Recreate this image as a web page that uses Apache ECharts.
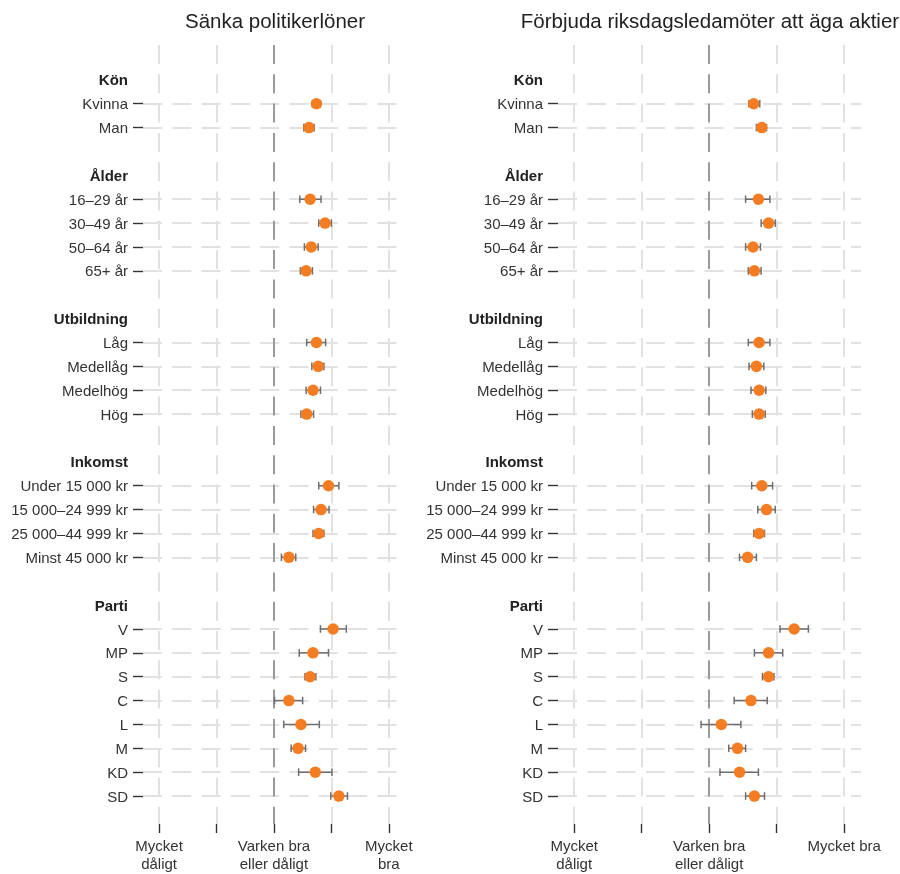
<!DOCTYPE html>
<html>
<head>
<meta charset="utf-8">
<script src="https://cdn.jsdelivr.net/npm/echarts@6/dist/echarts.min.js"></script>
<style>
  html, body { margin: 0; padding: 0; background: #ffffff; }
  #chart { width: 900px; height: 874px; }
</style>
</head>
<body>
<div id="chart"></div>
<script>
// ---------------- DATA ----------------
const panelTitles = ['Sänka politikerlöner', 'Förbjuda riksdagsledamöter att äga aktier'];

const groupNames = ['Kön', 'Ålder', 'Utbildning', 'Inkomst', 'Parti'];
const groupKon = ['Kvinna', 'Man'];
const groupAlder = ['16–29 år', '30–49 år', '50–64 år', '65+ år'];
const groupUtbildning = ['Låg', 'Medellåg', 'Medelhög', 'Hög'];
const groupInkomst = ['Under 15 000 kr', '15 000–24 999 kr', '25 000–44 999 kr', 'Minst 45 000 kr'];
const groupParti = ['V', 'MP', 'S', 'C', 'L', 'M', 'KD', 'SD'];

// x tick values and labels (1 = Mycket dåligt ... 5 = Mycket bra)
const xTickValues = [1, 2, 3, 4, 5];
const xTickLabelsLeft = ['Mycket\ndåligt', '', 'Varken bra\neller dåligt', '', 'Mycket\nbra'];
const xTickLabelsRight = ['Mycket\ndåligt', '', 'Varken bra\neller dåligt', '', 'Mycket bra'];

// Panel 1: Sänka politikerlöner (order: Kön, Ålder, Utbildning, Inkomst, Parti)
const lonerMean = [3.74, 3.61, 3.63, 3.89, 3.65, 3.56, 3.74, 3.77, 3.68, 3.57,
                   3.95, 3.82, 3.78, 3.26, 4.03, 3.68, 3.63, 3.26, 3.47, 3.42, 3.72, 4.13];
const lonerLow  = [3.67, 3.52, 3.45, 3.78, 3.53, 3.46, 3.57, 3.66, 3.56, 3.47,
                   3.78, 3.69, 3.68, 3.13, 3.81, 3.44, 3.54, 3.01, 3.17, 3.30, 3.43, 3.99];
const lonerHigh = [3.81, 3.70, 3.82, 4.00, 3.77, 3.67, 3.90, 3.87, 3.81, 3.69,
                   4.13, 3.96, 3.87, 3.38, 4.26, 3.95, 3.73, 3.50, 3.79, 3.55, 4.01, 4.28];

// Panel 2: Förbjuda riksdagsledamöter att äga aktier
const aktierMean = [3.66, 3.78, 3.73, 3.88, 3.65, 3.67, 3.74, 3.70, 3.74, 3.74,
                    3.78, 3.85, 3.74, 3.57, 4.26, 3.88, 3.88, 3.62, 3.18, 3.42, 3.45, 3.67];
const aktierLow  = [3.59, 3.70, 3.54, 3.77, 3.54, 3.58, 3.58, 3.59, 3.62, 3.64,
                    3.63, 3.72, 3.66, 3.45, 4.05, 3.67, 3.79, 3.37, 2.88, 3.29, 3.16, 3.54];
const aktierHigh = [3.75, 3.85, 3.90, 3.98, 3.76, 3.77, 3.90, 3.81, 3.84, 3.83,
                    3.94, 3.98, 3.82, 3.70, 4.47, 4.09, 3.96, 3.86, 3.47, 3.54, 3.73, 3.82];

// ---------------- BUILD ROWS ----------------
const groupItems = [groupKon, groupAlder, groupUtbildning, groupInkomst, groupParti];
const rowText = [];      // text per row index
const headerRows = [];   // row indices of headers
const dataRows = [];     // row indices of data items
groupNames.forEach((g, gi) => {
  if (gi > 0) rowText.push('');             // blank spacer row
  headerRows.push(rowText.length);
  rowText.push(g);
  groupItems[gi].forEach(it => { dataRows.push(rowText.length); rowText.push(it); });
});
const labelRows = headerRows.concat(dataRows).sort((a, b) => a - b);

const FONT = '"Liberation Sans", Arial, Helvetica, sans-serif';
const GRID_TOP = 45, GRID_H = 783;
const grids = [
  { left: 143, top: GRID_TOP, width: 255, height: GRID_H },
  { left: 558, top: GRID_TOP, width: 303, height: GRID_H }
];
const xRanges = [[0.72, 5.16], [0.76, 5.25]];
const xLabelSets = [xTickLabelsLeft, xTickLabelsRight];
const means = [lonerMean, aktierMean], lows = [lonerLow, aktierLow], highs = [lonerHigh, aktierHigh];

const dash = [19, 10.3];
const lightGrid = '#e1e1e1';

const xAxes = [], yAxes = [], series = [], titles = [];
[0, 1].forEach(p => {
  xAxes.push({
    type: 'value', gridIndex: p, min: xRanges[p][0], max: xRanges[p][1], position: 'bottom',
    axisLine: { show: false, onZero: false },
    axisTick: { show: true, customValues: xTickValues, length: 9, lineStyle: { color: '#333', width: 1.4 } },
    axisLabel: {
      customValues: xTickValues, margin: 14, color: '#333', fontSize: 15, fontFamily: FONT, lineHeight: 18,
      formatter: v => xLabelSets[p][Math.round(v) - 1]
    },
    splitLine: { show: true, lineStyle: { color: [lightGrid, lightGrid, '#9a9a9a', lightGrid, lightGrid], width: 2, type: dash } }
  });
  yAxes.push({
    type: 'value', gridIndex: p, inverse: true, min: -1.46, max: 31.17, position: 'left',
    axisLine: { show: false, onZero: false },
    axisTick: { show: true, customValues: dataRows, length: 10, lineStyle: { color: '#333', width: 1.4 } },
    axisLabel: {
      customValues: labelRows, margin: 15, color: '#333', fontSize: 15, fontFamily: FONT,
      padding: [3, 0, 0, 0],
      formatter: v => {
        const r = Math.round(v);
        return headerRows.indexOf(r) >= 0 ? '{h|' + rowText[r] + '}' : rowText[r];
      },
      rich: { h: { fontWeight: 'bold', fontSize: 15, fontFamily: FONT, color: '#222' } }
    },
    splitLine: { show: true, lineStyle: { color: lightGrid, width: 2, type: dash } }
  });
  const errData = dataRows.map((r, i) => [lows[p][i], highs[p][i], r]);
  const ptData = dataRows.map((r, i) => [means[p][i], r]);
  series.push({
    type: 'custom', xAxisIndex: p, yAxisIndex: p, z: 3, silent: true,
    data: errData,
    renderItem: (params, api) => {
      const a = api.coord([api.value(0), api.value(2)]);
      const b = api.coord([api.value(1), api.value(2)]);
      const st = { stroke: '#6e6e6e', lineWidth: 1.5 };
      const h = 3.8;
      return {
        type: 'group',
        children: [
          { type: 'line', shape: { x1: a[0], y1: a[1], x2: b[0], y2: b[1] }, style: st },
          { type: 'line', shape: { x1: a[0], y1: a[1] - h, x2: a[0], y2: a[1] + h }, style: st },
          { type: 'line', shape: { x1: b[0], y1: b[1] - h, x2: b[0], y2: b[1] + h }, style: st }
        ]
      };
    }
  });
  series.push({
    type: 'scatter', xAxisIndex: p, yAxisIndex: p, z: 4, silent: true,
    symbol: 'circle', symbolSize: 11.5,
    itemStyle: { color: '#f47c22', opacity: 1 },
    data: ptData
  });
});
titles.push({ text: panelTitles[0], left: 275, top: 12, textAlign: 'center', padding: 0,
  textStyle: { fontSize: 20.5, fontWeight: 'normal', color: '#222', fontFamily: FONT } });
titles.push({ text: panelTitles[1], left: 710, top: 12, textAlign: 'center', padding: 0,
  textStyle: { fontSize: 20.5, fontWeight: 'normal', color: '#222', fontFamily: FONT } });

const chart = echarts.init(document.getElementById('chart'), null, { renderer: 'canvas' });
chart.setOption({
  animation: false,
  backgroundColor: '#ffffff',
  title: titles,
  grid: grids,
  xAxis: xAxes,
  yAxis: yAxes,
  series: series
});
</script>
</body>
</html>
